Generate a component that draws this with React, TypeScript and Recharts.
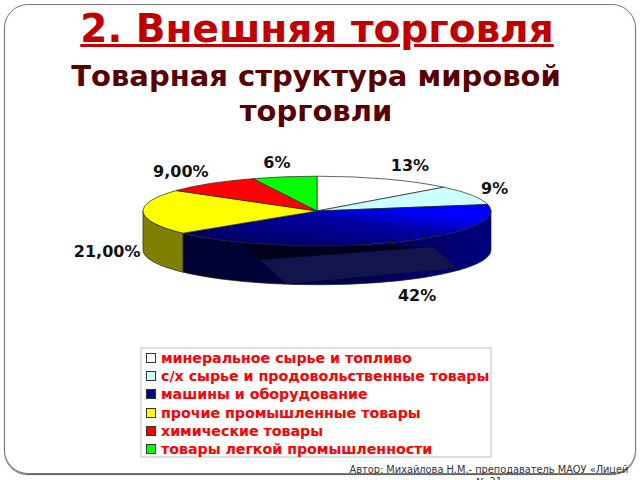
import { Legend, Pie, PieChart } from 'recharts';

const categories = [
  'минеральное сырье и топливо',
  'с/х сырье и продовольственные товары',
  'машины и оборудование',
  'прочие промышленные товары',
  'химические товары',
  'товары легкой промышленности',
];
const shares = [13, 9, 42, 21, 9, 6];
const shareLabels = ['13%', '9%', '42%', '21,00%', '9,00%', '6%'];
const topColors = ['#ffffff', '#ccffff', 'url(#blueTop)', '#ffff00', '#ff0000', '#00ff00'];
const sideColors = ['#808080', '#669999', 'url(#blueSide)', '#808000', '#800000', '#008000'];
const legendColors = ['#ffffff', '#ccffff', '#000099', '#ffff00', '#ff0000', '#00ff00'];
const labelNudge = [8, -13, 9, 4, -5, 0];

const topData = categories.map((name, i) => ({ name, value: shares[i], fill: topColors[i], legendColor: legendColors[i], text: shareLabels[i], nudge: labelNudge[i] }));
const sideData = categories.map((name, i) => ({ name, value: shares[i], fill: sideColors[i] }));

// the pie is tilted: the circle from recharts is squashed to this height
const SQUASH = 0.2;
const DEPTH = 39;
const RAD = Math.PI / 180;

const onRim = (cx: number, cy: number, r: number, deg: number) => ({
  x: cx + r * Math.cos(deg * RAD),
  y: cy - r * SQUASH * Math.sin(deg * RAD),
});

function TopWedge(props: any) {
  const { cx, cy, outerRadius: r, startAngle, endAngle, fill } = props;
  const a = onRim(cx, cy, r, startAngle);
  const b = onRim(cx, cy, r, endAngle);
  const large = Math.abs(startAngle - endAngle) > 180 ? 1 : 0;
  return (
    <path
      d={`M${cx},${cy} L${a.x},${a.y} A${r},${r * SQUASH} 0 ${large} 1 ${b.x},${b.y} Z`}
      fill={fill}
      stroke="#222"
      strokeWidth={0.7}
    />
  );
}

function SideWall(props: any) {
  const { cx, cy, outerRadius: r, startAngle, endAngle, fill } = props;
  // only the front half of the rim can be seen
  const from = Math.min(startAngle, 0);
  const to = Math.max(endAngle, -180);
  if (from <= to) return <g />;
  const a = onRim(cx, cy, r, from);
  const b = onRim(cx, cy, r, to);
  const ry = r * SQUASH;
  return (
    <g>
      <path
        d={`M${a.x},${a.y} A${r},${ry} 0 0 1 ${b.x},${b.y} L${b.x},${b.y + DEPTH} A${r},${ry} 0 0 0 ${a.x},${a.y + DEPTH} Z`}
        fill={fill}
        stroke="#222"
        strokeWidth={0.7}
      />
      {fill === 'url(#blueSide)' && (
        <g>
          {/* the glare on the front of the blue wall */}
          <polygon points={`${cx - 77},${cy + 32} ${cx + 116},${cy + 36} ${cx - 57},${cy + 49}`} fill="#00001c" />
          <polygon points={`${cx - 57},${cy + 49} ${cx + 116},${cy + 36} ${cx + 140},${cy + 57} ${cx - 30},${cy + 73}`} fill="#14144c" />
        </g>
      )}
    </g>
  );
}

function ShareLabel(props: any) {
  const { cx, cy, outerRadius: r, midAngle, payload } = props;
  const s = Math.sin(midAngle * RAD);
  const x = cx + (r + 40) * Math.cos(midAngle * RAD) + payload.nudge;
  const y = cy - (r * SQUASH + 15) * s + (s < 0.1 ? DEPTH : 0);
  return (
    <text x={x} y={y} textAnchor="middle" dominantBaseline="central" fontFamily="DejaVu Sans" fontWeight="bold" fontSize={16} fill="#111">
      {payload.text}
    </text>
  );
}

function LegendBox() {
  return (
    <div style={{ border: '2px solid #dedede', background: '#fff', width: 348, height: 107, padding: 0, boxSizing: 'content-box' }}>
      {topData.map((d) => (
        <div key={d.name} style={{ display: 'flex', alignItems: 'center', height: 18.2, paddingLeft: 4 }}>
          <span style={{ width: 8, height: 8, border: '1.5px solid #333', background: d.legendColor, marginRight: 5, flex: 'none' }} />
          <span style={{ fontFamily: 'DejaVu Sans', fontWeight: 'bold', fontSize: 14.2, color: '#ff0000', whiteSpace: 'nowrap' }}>{d.name}</span>
        </div>
      ))}
    </div>
  );
}

export default function App() {
  return (
    <div style={{ position: 'absolute', left: 0, top: 0, width: 640, height: 480, overflow: 'hidden', background: '#fff' }}>
      <div style={{ position: 'absolute', left: 4, top: 4, width: 630, height: 468, border: '1.5px solid #777', borderRadius: 24, boxShadow: '0 1px 1px #555' }} />
      <div style={{ position: 'absolute', left: 0, top: 6, width: 634, textAlign: 'center', fontFamily: 'DejaVu Sans', fontWeight: 'bold', fontSize: 39, color: '#c00000', textDecoration: 'underline' }}>
        2. Внешняя торговля
      </div>
      <div style={{ position: 'absolute', left: 0, top: 59, width: 632, textAlign: 'center', fontFamily: 'DejaVu Sans', fontWeight: 'bold', fontSize: 29, lineHeight: '35px', color: '#560000' }}>
        Товарная структура мировой
        <br />
        торговли
      </div>
      <PieChart width={640} height={480} margin={{ top: 0, right: 0, bottom: 0, left: 0 }} style={{ position: 'absolute', left: 0, top: 0 }}>
        <defs>
          <linearGradient id="blueTop" x1="0" y1="1" x2="1" y2="0">
            <stop offset="0.1" stopColor="#000060" />
            <stop offset="0.55" stopColor="#0000a0" />
            <stop offset="0.8" stopColor="#0000ff" />
          </linearGradient>
          <linearGradient id="blueSide" x1="0" y1="0" x2="1" y2="0">
            <stop offset="0" stopColor="#000030" />
            <stop offset="0.45" stopColor="#000040" />
            <stop offset="1" stopColor="#000080" />
          </linearGradient>
        </defs>
        <Pie data={sideData} dataKey="value" nameKey="name" cx={317} cy={211} outerRadius={174} startAngle={90} endAngle={-270} legendType="none" shape={SideWall} isAnimationActive={false} />
        <Pie data={topData} dataKey="value" nameKey="name" cx={317} cy={211} outerRadius={174} startAngle={90} endAngle={-270} shape={TopWedge} label={ShareLabel} labelLine={false} isAnimationActive={false} />
        <Legend content={LegendBox} wrapperStyle={{ position: 'absolute', left: 140, top: 347, width: 352, bottom: 'auto' }} />
      </PieChart>
      <div style={{ position: 'absolute', left: 346, top: 464, width: 286, textAlign: 'center', fontFamily: 'DejaVu Sans', fontSize: 9.8, lineHeight: '12px', color: '#333' }}>
        Автор: Михайлова Н.М.- преподаватель МАОУ «Лицей
        <br />
        № 21
      </div>
    </div>
  );
}
